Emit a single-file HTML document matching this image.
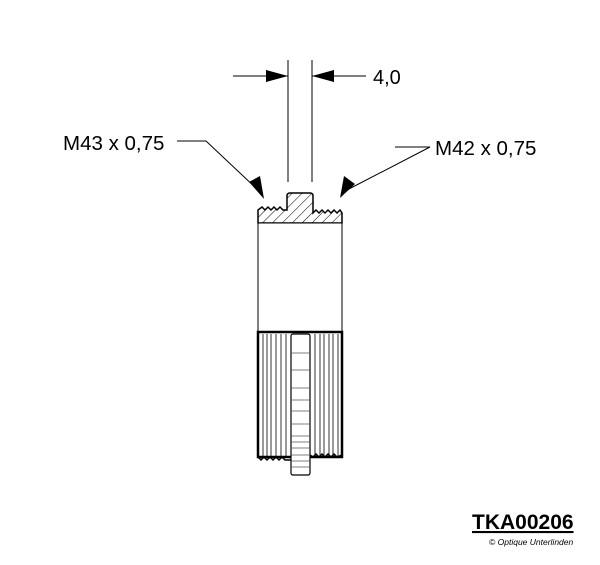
<!DOCTYPE html>
<html><head><style>body{margin:0;background:#fff}svg{display:block}</style></head><body>
<svg width="600" height="565" xmlns="http://www.w3.org/2000/svg" font-family="Liberation Sans, sans-serif">
<defs>
<pattern id="h" width="7" height="7" patternUnits="userSpaceOnUse" patternTransform="rotate(45)"><line x1="0" y1="0" x2="0" y2="7" stroke="#000" stroke-width="1"/></pattern>
</defs>
<g stroke="#000" stroke-width="1" fill="none">
<line x1="288" y1="60" x2="288" y2="182"/><line x1="312" y1="60" x2="312" y2="182"/>
<line x1="233" y1="76" x2="288" y2="76"/><line x1="312" y1="76" x2="366" y2="76"/>
<polyline points="177,141 206,141 258,190"/>
<polyline points="395,147 430,147 347,190"/>
</g>
<polygon points="288,76 266,70 266,82" fill="#000"/>
<polygon points="312,76 334,70 334,82" fill="#000"/>
<polygon points="264,199 249,182 260,176" fill="#000"/>
<polygon points="340,198 344,176 355,184" fill="#000"/>
<text x="373" y="84" font-size="20">4,0</text>
<text x="63" y="150" font-size="20.5">M43 x 0,75</text>
<text x="435" y="155" font-size="20.5">M42 x 0,75</text>
<path d="M258,223 L258,210 L262,207 L265,210 L268,207 L271,210 L274,207 L277,210 L280,207 L283,210 L287,210 L287,196 Q287,193 290,193 L310,193 Q313,193 313,196 L313,213 L316,210 L319,213 L322,210 L325,213 L328,210 L331,213 L334,210 L337,213 L340,210 L342,213 L342,223 Z" fill="url(#h)" stroke="#000" stroke-width="1.5"/>
<rect x="258" y="223" width="84" height="109" fill="#fff" stroke="#000" stroke-width="1"/>
<rect x="258" y="332" width="84" height="125" fill="#fff" stroke="#000" stroke-width="2.5"/>
<g stroke="#000" stroke-width="0.8">
<line x1="263" y1="334" x2="263" y2="456"/><line x1="267" y1="334" x2="267" y2="456"/><line x1="271" y1="334" x2="271" y2="456"/><line x1="276" y1="334" x2="276" y2="456"/><line x1="281" y1="334" x2="281" y2="456"/><line x1="286" y1="334" x2="286" y2="456"/>
<line x1="315" y1="334" x2="315" y2="456"/><line x1="320" y1="334" x2="320" y2="456"/><line x1="324" y1="334" x2="324" y2="456"/><line x1="329" y1="334" x2="329" y2="456"/><line x1="333" y1="334" x2="333" y2="456"/><line x1="338" y1="334" x2="338" y2="456"/>
</g>
<path d="M258,457 L261,460 L264,457 L267,460 L270,457 L273,460 L276,457 L279,460 L282,457 L285,460 L291,460 M310,455 L313,457 L316,454 L319,457 L322,454 L325,457 L328,454 L331,457 L334,454 L337,457 L342,455" stroke="#000" stroke-width="1.5" fill="none"/>
<rect x="291" y="334" width="19" height="141" rx="2" fill="#fff" stroke="#000" stroke-width="1.2"/>
<g stroke="#555" stroke-width="0.8">
<line x1="291" y1="353" x2="310" y2="353"/><line x1="291" y1="370" x2="310" y2="370"/><line x1="291" y1="388" x2="310" y2="388"/><line x1="291" y1="400" x2="310" y2="400"/><line x1="291" y1="411" x2="310" y2="411"/><line x1="291" y1="424" x2="310" y2="424"/><line x1="291" y1="436" x2="310" y2="436"/><line x1="291" y1="442" x2="310" y2="442"/><line x1="291" y1="448" x2="310" y2="448"/><line x1="291" y1="455" x2="310" y2="455"/><line x1="291" y1="461" x2="310" y2="461"/><line x1="291" y1="467" x2="310" y2="467"/>
</g>
<text x="472" y="529" font-size="21" font-weight="bold" text-decoration="underline">TKA00206</text>
<text x="489" y="545" font-size="8.5" font-style="italic">© Optique Unterlinden</text>
</svg>
</body></html>
